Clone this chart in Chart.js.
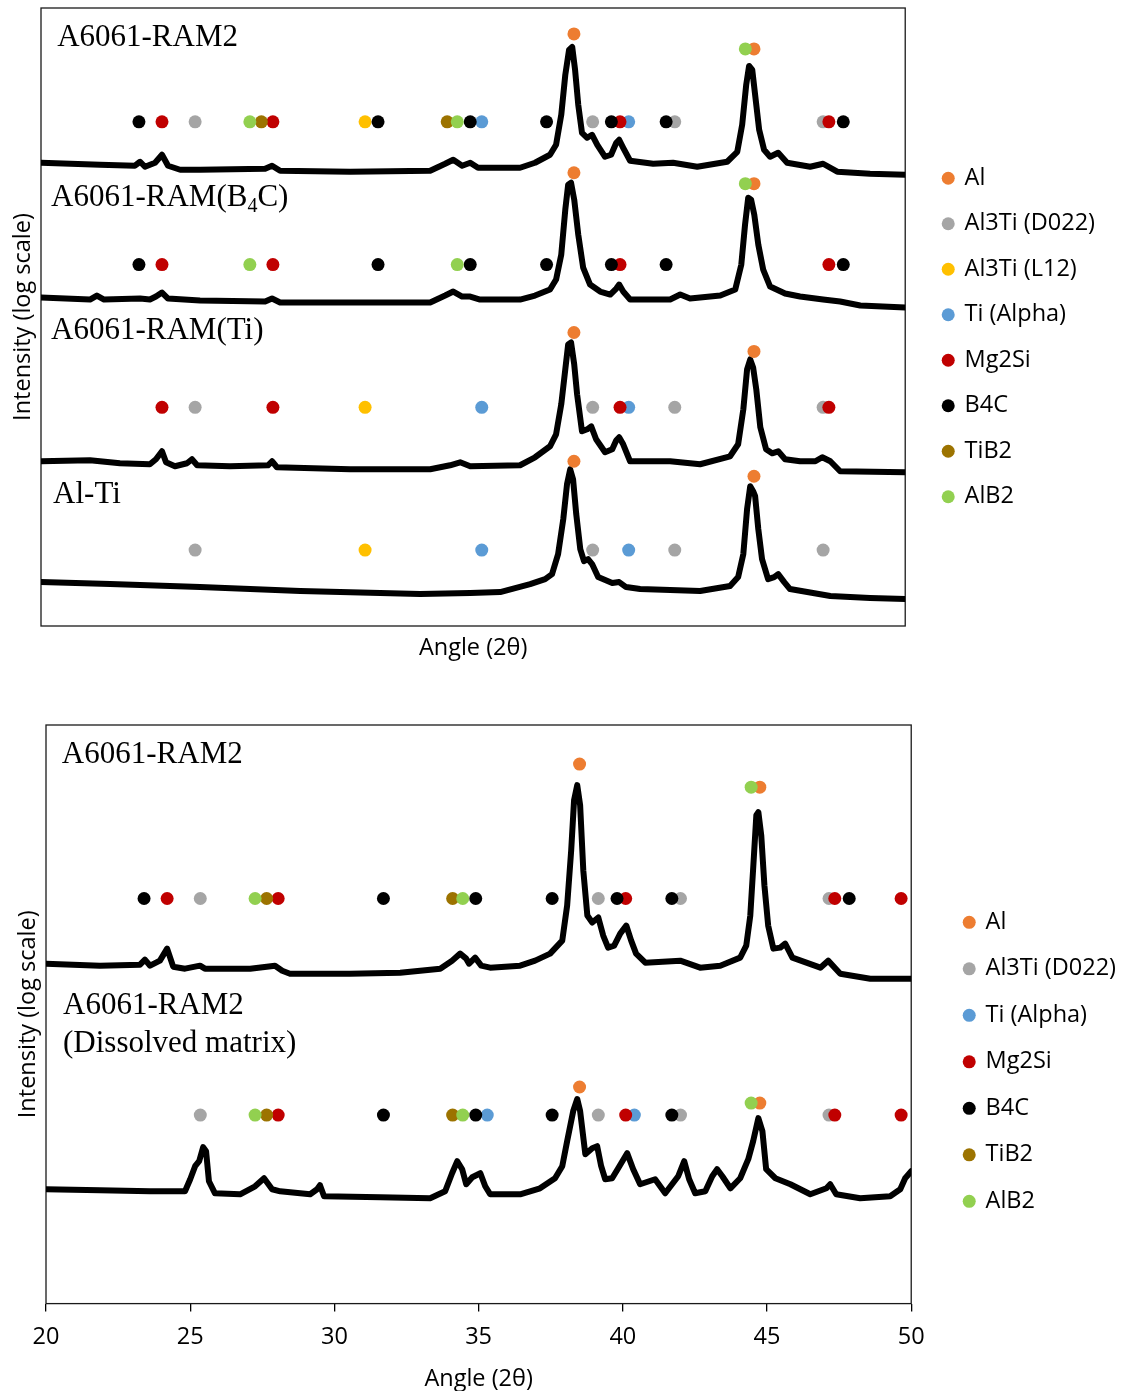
<!DOCTYPE html>
<html>
<head>
<meta charset="utf-8">
<script src="https://cdn.jsdelivr.net/npm/chart.js@4.4.1/dist/chart.umd.min.js"></script>
<style>
  html, body { margin: 0; padding: 0; background: #fff; overflow: hidden; }
  #wrap { position: relative; width: 1125px; height: 1391px; overflow: hidden; }
  canvas { position: absolute; left: 0; }
  #graficoTopo { top: 0; }
  #graficoBase { top: 690px; }
</style>
</head>
<body>
<div id="wrap">
  <canvas id="graficoTopo" width="1125" height="690"></canvas>
  <canvas id="graficoBase" width="1125" height="703"></canvas>
</div>
<script>
// fases e cores (ordem da legenda)
const phaseNames = ["Al", "Al3Ti (D022)", "Al3Ti (L12)", "Ti (Alpha)", "Mg2Si", "B4C", "TiB2", "AlB2"];
const phaseColors = ["#ed7d31", "#a5a5a5", "#ffc000", "#5b9bd5", "#c00000", "#000000", "#9c7300", "#92d050"];

const angleTicks = [20, 25, 30, 35, 40, 45, 50];

// painel de cima: [2theta, intensidade]
const topNames = ["A6061-RAM2", "A6061-RAM(B4C)", "A6061-RAM(Ti)", "Al-Ti"];

const topRam2 = [[20.0,46.4],[22.05,46.2],[23.26,46.1],[23.44,46.5],[23.61,46.0],[23.96,46.4],[24.2,47.2],[24.41,46.1],[24.83,45.7],[25.52,45.7],[27.78,45.8],[28.02,46.1],[28.3,45.6],[30.73,45.5],[33.51,45.6],[34.03,46.3],[34.31,46.7],[34.62,46.1],[34.9,46.4],[35.17,45.9],[36.63,45.9],[37.15,46.4],[37.67,47.2],[37.88,48.2],[38.06,51.2],[38.2,55.2],[38.33,57.7],[38.44,58.0],[38.54,55.7],[38.65,52.2],[38.78,49.4],[38.96,48.9],[39.13,49.2],[39.31,48.2],[39.58,47.0],[39.79,47.2],[39.97,48.4],[40.07,48.7],[40.21,47.9],[40.45,46.6],[41.25,46.3],[41.94,46.4],[42.78,46.0],[43.82,46.5],[44.17,47.5],[44.34,50.2],[44.48,54.2],[44.58,56.1],[44.69,55.7],[44.79,53.2],[44.93,49.7],[45.1,47.7],[45.31,47.0],[45.59,47.4],[45.9,46.4],[46.7,46.0],[47.15,46.3],[47.64,45.5],[48.78,45.3],[50.0,45.2]];

const topB4c = [[20.0,32.9],[21.7,32.7],[21.94,33.1],[22.19,32.7],[23.44,32.8],[23.78,32.7],[23.99,33.0],[24.2,33.4],[24.41,32.8],[25.52,32.6],[27.78,32.5],[28.02,32.8],[28.3,32.4],[30.73,32.4],[33.51,32.4],[34.03,33.1],[34.31,33.5],[34.62,33.0],[34.9,33.0],[35.24,32.7],[36.63,32.7],[37.15,33.1],[37.67,33.7],[37.88,34.7],[38.06,37.2],[38.2,41.7],[38.3,44.2],[38.4,44.4],[38.51,42.7],[38.65,39.2],[38.82,35.9],[39.06,34.2],[39.41,33.5],[39.76,33.2],[39.97,33.8],[40.07,34.2],[40.21,33.5],[40.45,32.7],[41.84,32.7],[42.19,33.2],[42.53,32.8],[43.58,33.1],[44.1,33.7],[44.31,36.2],[44.44,40.2],[44.55,42.9],[44.65,42.7],[44.76,41.2],[44.9,38.2],[45.07,35.7],[45.31,34.0],[45.83,33.3],[46.35,33.0],[47.15,32.7],[47.74,32.5],[48.44,32.1],[50.0,31.9]];

const topTi = [[20.0,16.5],[21.7,16.6],[22.74,16.3],[23.78,16.2],[23.99,16.7],[24.2,17.5],[24.34,16.4],[24.65,16.0],[25.07,16.3],[25.24,16.7],[25.42,16.1],[26.56,16.0],[27.88,16.1],[28.02,16.5],[28.19,15.9],[30.73,15.7],[33.51,15.7],[34.2,16.1],[34.55,16.4],[34.9,16.0],[36.63,16.1],[37.15,16.9],[37.67,18.0],[37.88,19.2],[38.06,22.2],[38.2,25.7],[38.3,28.2],[38.4,28.4],[38.51,26.2],[38.61,23.2],[38.78,19.5],[38.96,19.7],[39.1,20.0],[39.27,18.7],[39.58,17.4],[39.83,17.7],[39.97,18.6],[40.07,18.9],[40.21,18.2],[40.45,16.5],[41.84,16.5],[42.88,16.2],[43.92,17.0],[44.2,18.2],[44.38,21.7],[44.51,25.7],[44.62,26.7],[44.72,25.9],[44.83,23.7],[44.97,19.9],[45.17,17.7],[45.38,17.3],[45.59,17.5],[45.83,16.7],[46.35,16.5],[46.88,16.5],[47.12,16.9],[47.4,16.5],[47.74,15.5],[50.0,15.4]];

const topAlTi = [[20.0,4.4],[22.4,4.2],[25.52,3.9],[29.0,3.5],[33.16,3.2],[34.9,3.3],[35.94,3.4],[36.98,4.2],[37.5,4.7],[37.74,5.2],[37.95,7.2],[38.13,10.7],[38.26,14.2],[38.37,15.7],[38.47,14.7],[38.58,11.2],[38.72,7.7],[38.85,6.5],[38.99,6.7],[39.13,6.2],[39.34,4.9],[39.83,4.3],[40.07,4.4],[40.31,3.9],[40.8,3.7],[42.88,3.5],[43.92,4.0],[44.2,4.9],[44.38,7.2],[44.51,11.7],[44.62,14.0],[44.72,13.5],[44.79,13.0],[44.9,9.7],[45.03,6.7],[45.24,4.7],[45.45,4.9],[45.59,5.2],[45.8,4.4],[46.0,3.7],[47.4,3.0],[48.78,2.8],[50.0,2.7]];

// marcadores de fase: [fase, 2theta, nivel]
const topRam2Marks = [["B4C",23.4,50.5],["Mg2Si",24.2,50.5],["Al3Ti (D022)",25.35,50.5],["AlB2",27.25,50.5],["TiB2",27.65,50.5],["Mg2Si",28.05,50.5],["Al3Ti (L12)",31.25,50.5],["B4C",31.7,50.5],["TiB2",34.1,50.5],["AlB2",34.45,50.5],["B4C",34.9,50.5],["Ti (Alpha)",35.3,50.5],["B4C",37.55,50.5],["Al",38.5,59.3],["Al3Ti (D022)",39.15,50.5],["B4C",39.8,50.5],["Mg2Si",40.1,50.5],["Ti (Alpha)",40.4,50.5],["B4C",41.7,50.5],["Al3Ti (D022)",42.0,50.5],["AlB2",44.45,57.8],["Al",44.75,57.8],["Al3Ti (D022)",47.15,50.5],["Mg2Si",47.35,50.5],["B4C",47.85,50.5]];

const topB4cMarks = [["B4C",23.4,36.2],["Mg2Si",24.2,36.2],["AlB2",27.25,36.2],["Mg2Si",28.05,36.2],["B4C",31.7,36.2],["AlB2",34.45,36.2],["B4C",34.9,36.2],["B4C",37.55,36.2],["Al",38.5,45.4],["B4C",39.8,36.2],["Mg2Si",40.1,36.2],["B4C",41.7,36.2],["AlB2",44.45,44.3],["Al",44.75,44.3],["Mg2Si",47.35,36.2],["B4C",47.85,36.2]];

const topTiMarks = [["Mg2Si",24.2,21.9],["Al3Ti (D022)",25.35,21.9],["Mg2Si",28.05,21.9],["Al3Ti (L12)",31.25,21.9],["Ti (Alpha)",35.3,21.9],["Al",38.5,29.4],["Al3Ti (D022)",39.15,21.9],["Mg2Si",40.1,21.9],["Ti (Alpha)",40.4,21.9],["Al3Ti (D022)",42.0,21.9],["Al",44.75,27.5],["Al3Ti (D022)",47.15,21.9],["Mg2Si",47.35,21.9]];

const topAlTiMarks = [["Al3Ti (D022)",25.35,7.6],["Al3Ti (L12)",31.25,7.6],["Ti (Alpha)",35.3,7.6],["Al",38.5,16.5],["Al3Ti (D022)",39.15,7.6],["Ti (Alpha)",40.4,7.6],["Al3Ti (D022)",42.0,7.6],["Al",44.75,15.0],["Al3Ti (D022)",47.15,7.6]];

// painel de baixo
const bottomNames = ["A6061-RAM2", "A6061-RAM2", "(Dissolved matrix)"];
const bottomPhaseNames = ["Al", "Al3Ti (D022)", "Ti (Alpha)", "Mg2Si", "B4C", "TiB2", "AlB2"];

const bottomRam2 = [[20.0,33.9],[21.87,33.7],[23.26,33.8],[23.43,34.3],[23.61,33.7],[23.95,34.2],[24.2,35.4],[24.41,33.6],[24.82,33.4],[25.34,33.7],[25.51,33.4],[27.08,33.4],[27.94,33.7],[28.19,33.2],[28.46,32.9],[30.54,32.9],[32.28,33.0],[33.67,33.4],[34.08,34.2],[34.36,34.9],[34.57,34.4],[34.67,33.9],[34.88,34.5],[35.09,33.7],[35.4,33.5],[36.44,33.7],[36.96,34.2],[37.48,34.9],[37.9,36.2],[38.07,39.7],[38.21,45.2],[38.31,50.2],[38.42,51.7],[38.52,49.7],[38.63,43.2],[38.77,38.7],[38.94,38.0],[39.15,38.5],[39.32,36.7],[39.49,35.5],[39.7,35.7],[39.91,36.9],[40.12,37.7],[40.29,36.2],[40.46,34.9],[40.78,34.0],[41.99,34.2],[42.68,33.5],[43.38,33.7],[44.07,34.5],[44.28,35.7],[44.42,38.7],[44.52,43.4],[44.63,48.7],[44.7,49.0],[44.8,46.7],[44.91,41.7],[45.04,37.7],[45.22,35.4],[45.46,35.5],[45.63,35.9],[45.88,34.5],[46.85,33.5],[47.12,34.2],[47.54,32.9],[48.58,32.4],[50.0,32.4]];

const bottomDissolved = [[20.0,11.4],[21.87,11.3],[23.61,11.2],[24.82,11.2],[25.0,12.4],[25.17,13.7],[25.31,14.2],[25.45,15.6],[25.55,15.2],[25.65,12.2],[25.86,11.0],[26.73,10.9],[27.25,11.7],[27.56,12.5],[27.84,11.4],[28.12,11.2],[29.16,10.9],[29.4,11.4],[29.5,11.8],[29.64,10.7],[31.59,10.6],[33.32,10.5],[33.84,11.2],[34.08,13.0],[34.26,14.2],[34.43,13.4],[34.57,11.9],[34.78,12.6],[35.06,13.0],[35.23,11.7],[35.4,10.9],[36.44,10.9],[37.13,11.5],[37.65,12.5],[37.9,13.7],[38.07,16.2],[38.28,19.2],[38.42,20.4],[38.52,19.2],[38.7,14.9],[38.94,15.5],[39.11,15.7],[39.25,13.7],[39.39,12.4],[39.63,12.5],[39.84,13.5],[40.15,15.0],[40.36,13.4],[40.6,11.9],[41.12,12.4],[41.47,11.0],[41.92,12.7],[42.13,14.2],[42.3,12.4],[42.51,11.0],[42.86,11.2],[43.1,12.7],[43.27,13.4],[43.45,12.7],[43.73,11.5],[44.07,12.5],[44.35,14.4],[44.52,16.2],[44.7,18.5],[44.84,17.2],[44.97,13.4],[45.29,12.5],[45.81,11.9],[46.5,10.9],[47.06,11.5],[47.19,11.9],[47.4,10.9],[48.23,10.5],[49.27,10.7],[49.62,11.4],[49.79,12.5],[50.0,13.2]];

const bottomRam2Marks = [["B4C",23.4,40.4],["Mg2Si",24.2,40.4],["Al3Ti (D022)",25.35,40.4],["AlB2",27.25,40.4],["TiB2",27.65,40.4],["Mg2Si",28.05,40.4],["B4C",31.7,40.4],["TiB2",34.1,40.4],["AlB2",34.45,40.4],["B4C",34.9,40.4],["B4C",37.55,40.4],["Al",38.5,53.8],["Al3Ti (D022)",39.15,40.4],["B4C",39.8,40.4],["Mg2Si",40.1,40.4],["B4C",41.7,40.4],["Al3Ti (D022)",42.0,40.4],["AlB2",44.45,51.5],["Al",44.75,51.5],["Al3Ti (D022)",47.15,40.4],["Mg2Si",47.35,40.4],["B4C",47.85,40.4],["Mg2Si",49.65,40.4]];

const bottomDissolvedMarks = [["Al3Ti (D022)",25.35,18.8],["AlB2",27.25,18.8],["TiB2",27.65,18.8],["Mg2Si",28.05,18.8],["B4C",31.7,18.8],["TiB2",34.1,18.8],["AlB2",34.45,18.8],["B4C",34.9,18.8],["Ti (Alpha)",35.3,18.8],["B4C",37.55,18.8],["Al",38.5,21.6],["Al3Ti (D022)",39.15,18.8],["Mg2Si",40.1,18.8],["Ti (Alpha)",40.4,18.8],["B4C",41.7,18.8],["Al3Ti (D022)",42.0,18.8],["AlB2",44.45,20.0],["Al",44.75,20.0],["Al3Ti (D022)",47.15,18.8],["Mg2Si",47.35,18.8],["Mg2Si",49.65,18.8]];

Chart.defaults.font.family = "'Open Sans', sans-serif";
Chart.defaults.color = "#000";

const fontSans = 23.5;

// moldura da area do grafico
const molduraPlugin = {
    id: "moldura",
    beforeDatasetsDraw(chart) {
        const a = chart.chartArea;
        const ctx = chart.ctx;
        ctx.save();
        ctx.strokeStyle = "#1a1a1a";
        ctx.lineWidth = 1.3;
        ctx.strokeRect(a.left, a.top, a.right - a.left, a.bottom - a.top);
        ctx.restore();
    }
};

// nomes das amostras (fonte serifada, subscrito no B4C)
const nomesPlugin = {
    id: "nomes",
    afterDatasetsDraw(chart, args, opts) {
        const ctx = chart.ctx;
        const xs = chart.scales.x;
        const ys = chart.scales.y;
        ctx.save();
        ctx.fillStyle = "#000";
        ctx.textAlign = "left";
        ctx.textBaseline = "alphabetic";
        opts.items.forEach(function (item) {
            let x = xs.getPixelForValue(item.x);
            const y = ys.getPixelForValue(item.y);
            const m = item.text.match(/^(.*\(B)(\d)(C\))$/);
            ctx.font = "31px 'Liberation Serif', serif";
            if (m) {
                ctx.fillText(m[1], x, y);
                x += ctx.measureText(m[1]).width;
                ctx.font = "20px 'Liberation Serif', serif";
                ctx.fillText(m[2], x, y + 6);
                x += ctx.measureText(m[2]).width;
                ctx.font = "31px 'Liberation Serif', serif";
                ctx.fillText(m[3], x, y);
            } else {
                ctx.fillText(item.text, x, y);
            }
        });
        ctx.restore();
    }
};

function montarDatasets(fases, traces, marcas) {
    const datasets = [];
    fases.forEach(function (fase, i) {
        const pontos = [];
        marcas.forEach(function (lista) {
            lista.forEach(function (m) {
                if (m[0] === fase) pontos.push({ x: m[1], y: m[2] });
            });
        });
        datasets.push({
            label: fase,
            data: pontos,
            showLine: false,
            pointStyle: "circle",
            pointRadius: 6.5,
            pointHoverRadius: 6.5,
            pointBorderWidth: 0,
            borderWidth: 0,
            backgroundColor: phaseColors[phaseNames.indexOf(fase)],
            borderColor: phaseColors[phaseNames.indexOf(fase)],
            order: -i
        });
    });
    traces.forEach(function (t) {
        datasets.push({
            label: "trace",
            data: t.map(function (p) { return { x: p[0], y: p[1] }; }),
            showLine: true,
            borderColor: "#000",
            borderWidth: 6,
            pointRadius: 0,
            borderJoinStyle: "round",
            borderCapStyle: "round",
            order: 50
        });
    });
    return datasets;
}

function criarGrafico(canvasId, cfg) {
    const nFases = cfg.fases.length;
    return new Chart(document.getElementById(canvasId), {
        type: "scatter",
        data: { datasets: montarDatasets(cfg.fases, cfg.traces, cfg.marcas) },
        options: {
            responsive: false,
            animation: false,
            events: [],
            layout: { padding: cfg.padding },
            scales: {
                x: {
                    type: "linear",
                    min: 20,
                    max: 50,
                    border: { display: false },
                    grid: cfg.xTicks
                        ? { display: true, drawOnChartArea: false, drawTicks: true, tickLength: 8, color: "#000", lineWidth: 1.3 }
                        : { display: false, drawTicks: false },
                    ticks: cfg.xTicks
                        ? { display: true, stepSize: 5, padding: 12, font: { size: fontSans }, color: "#000", maxRotation: 0 }
                        : { display: false },
                    afterBuildTicks: function (axis) {
                        axis.ticks = angleTicks.map(function (v) { return { value: v }; });
                    },
                    title: {
                        display: true,
                        text: "Angle (2θ)",
                        font: { size: fontSans },
                        color: "#000",
                        padding: { top: cfg.xTitlePad, bottom: 0 }
                    }
                },
                y: {
                    type: "linear",
                    position: "left",
                    min: 0,
                    max: cfg.yMax,
                    border: { display: false },
                    grid: { display: false, drawTicks: false },
                    ticks: { display: false },
                    title: {
                        display: true,
                        text: "Intensity (log scale)",
                        font: { size: fontSans },
                        color: "#000",
                        padding: { top: 5, bottom: 3.8 }
                    }
                },
                espaco: {
                    type: "linear",
                    position: "right",
                    border: { display: false },
                    grid: { display: false, drawTicks: false },
                    ticks: { display: false },
                    title: { display: true, text: "", font: { size: 1 }, padding: { top: 0, bottom: cfg.legendGap } }
                }
            },
            plugins: {
                tooltip: { enabled: false },
                legend: {
                    position: "right",
                    fullSize: false,
                    align: "center",
                    title: { display: true, text: "", font: { size: 10 }, padding: { top: cfg.legendShift, bottom: 0 } },
                    labels: {
                        usePointStyle: true,
                        pointStyle: "circle",
                        boxWidth: 9.2,
                        boxHeight: 9.2,
                        padding: cfg.legendPad,
                        color: "#000",
                        font: { size: fontSans },
                        filter: function (item) { return item.datasetIndex < nFases; },
                        sort: function (a, b) { return a.datasetIndex - b.datasetIndex; }
                    }
                },
                nomes: { items: cfg.nomes }
            }
        },
        plugins: [molduraPlugin, nomesPlugin]
    });
}

criarGrafico("graficoTopo", {
    fases: phaseNames,
    traces: [topRam2, topB4c, topTi, topAlTi],
    marcas: [topRam2Marks, topB4cMarks, topTiMarks, topAlTiMarks],
    padding: { top: 8, left: 4, right: 20, bottom: 27.8 },
    xTicks: false,
    xTitlePad: 8,
    yMax: 61.9,
    legendGap: 15.2,
    legendShift: 29,
    legendPad: 22,
    nomes: [
        { text: topNames[0], x: 20.56, y: 58.1 },
        { text: topNames[1], x: 20.35, y: 42.1 },
        { text: topNames[2], x: 20.35, y: 28.7 },
        { text: topNames[3], x: 20.42, y: 12.3 }
    ]
});

criarGrafico("graficoBase", {
    fases: bottomPhaseNames,
    traces: [bottomRam2, bottomDissolved],
    marcas: [bottomRam2Marks, bottomDissolvedMarks],
    padding: { top: 35, left: 9, right: -1, bottom: 0 },
    xTicks: true,
    xTitlePad: 1,
    yMax: 57.7,
    legendGap: 29.2,
    legendShift: 83,
    legendPad: 23,
    nomes: [
        { text: bottomNames[0], x: 20.55, y: 53.9 },
        { text: bottomNames[1], x: 20.59, y: 28.9 },
        { text: bottomNames[2], x: 20.59, y: 25.1 }
    ]
});
</script>
</body>
</html>
